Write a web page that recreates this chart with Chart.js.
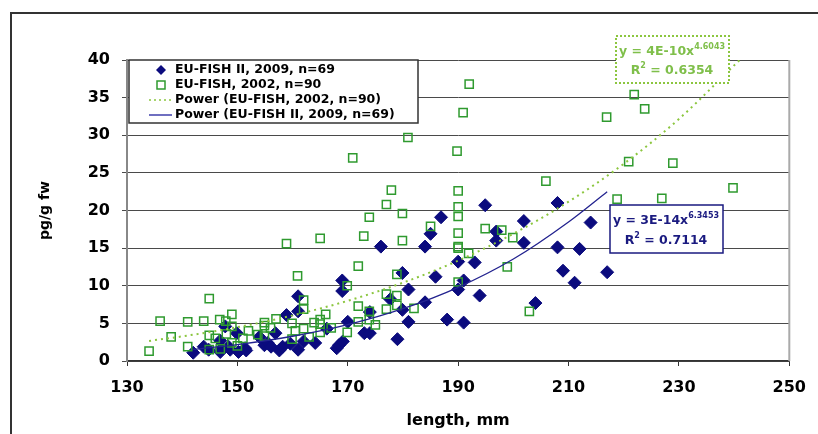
<!DOCTYPE html>
<html>
<head>
<meta charset="utf-8">
<script src="https://cdn.jsdelivr.net/npm/chart.js@4.4.1/dist/chart.umd.min.js"></script>
<style>
  html, body { margin: 0; padding: 0; background: #fff; }
  #wrap { width: 818px; height: 434px; position: relative; }
</style>
</head>
<body>
<div id="wrap"><canvas id="fishChart" width="818" height="434"></canvas></div>
<script>
// ::::: DATA :::::
// EU-FISH II, 2009, n=69  (length in mm, pg/g fw)
const fish2009Length = [142.0, 143.9, 144.8, 146.9, 146.9, 147.2, 148.4, 148.7, 147.8, 149.9,
  150.2, 151.4, 151.6, 154.0, 154.9, 155.5, 156.1, 156.9, 157.6, 158.2,
  158.9, 159.6, 161.0, 161.0, 161.0, 162.0, 164.1, 166.2, 168.0, 168.4,
  169.1, 169.0, 169.0, 170.0, 173.0, 174.0, 174.0, 176.0, 177.7, 179.0,
  179.9, 179.9, 181.0, 181.0, 184.0, 184.0, 185.0, 185.9, 186.9, 188.0,
  190.0, 190.0, 191.0, 191.0, 193.0, 193.9, 194.9, 196.9, 196.9, 201.9,
  201.9, 204.0, 208.0, 208.0, 209.0, 211.1, 212.0, 214.0, 217.0];
const fish2009Conc = [1.1, 1.9, 1.5, 2.7, 1.2, 1.7, 1.9, 1.5, 4.6, 3.7,
  1.2, 1.7, 1.4, 3.2, 2.1, 2.4, 1.9, 3.7, 1.4, 1.9,
  6.1, 2.3, 1.5, 8.6, 6.6, 2.6, 2.4, 4.3, 1.7, 2.1,
  2.6, 10.7, 9.3, 5.2, 3.7, 3.7, 6.5, 15.2, 8.2, 2.9,
  6.8, 11.7, 9.5, 5.2, 15.2, 7.8, 16.9, 11.2, 19.1, 5.5,
  13.2, 9.5, 10.7, 5.1, 13.1, 8.7, 20.7, 17.2, 16.0, 18.6,
  15.7, 7.7, 21.0, 15.1, 12.0, 10.4, 14.9, 18.4, 11.8];

// EU-FISH, 2002, n=90
const fish2002Length = [134.0, 136.0, 138.0, 141.0, 141.0, 143.9, 144.9, 144.9, 144.9, 146.0,
  146.8, 146.9, 147.9, 148.0, 149.0, 149.0, 149.0, 150.0, 151.0, 152.0,
  153.7, 154.9, 154.9, 154.9, 156.0, 157.0, 158.9, 159.9, 159.9, 160.5,
  160.9, 162.0, 162.0, 162.0, 163.0, 163.9, 165.0, 165.0, 165.0, 165.0,
  166.0, 167.0, 169.9, 169.9, 170.9, 171.9, 171.9, 171.9, 172.9, 173.9,
  173.9, 173.9, 175.0, 177.0, 177.0, 177.0, 177.9, 178.9, 178.9, 178.9,
  179.9, 179.9, 180.9, 182.0, 185.0, 189.8, 190.0, 190.0, 190.0, 190.0,
  190.0, 190.0, 190.0, 190.9, 192.0, 191.9, 194.9, 197.9, 198.9, 199.9,
  202.9, 205.9, 216.9, 218.8, 220.9, 221.9, 223.8, 226.9, 228.9, 239.8];
const fish2002Conc = [1.3, 5.3, 3.2, 5.2, 1.9, 5.3, 8.3, 3.4, 1.5, 3.0,
  5.5, 1.6, 5.3, 3.6, 6.2, 4.6, 2.4, 2.0, 3.0, 4.0,
  3.5, 5.1, 4.7, 3.3, 4.4, 5.6, 15.6, 5.0, 2.9, 4.0,
  11.3, 8.1, 6.9, 4.3, 3.2, 5.1, 16.3, 5.5, 4.9, 3.8,
  6.2, 4.4, 10.0, 3.8, 27.0, 12.6, 7.3, 5.2, 16.6, 19.1,
  5.5, 6.6, 4.8, 20.8, 8.9, 6.9, 22.7, 11.5, 8.7, 7.4,
  19.6, 16.0, 29.7, 7.0, 17.9, 27.9, 22.6, 20.5, 19.2, 17.0,
  15.2, 15.0, 10.5, 33.0, 36.8, 14.3, 17.6, 17.4, 12.5, 16.4,
  6.6, 23.9, 32.4, 21.5, 26.5, 35.4, 33.5, 21.6, 26.3, 23.0];

// Power trend lines
const trend2002Length = [134, 140, 150, 160, 170, 180, 190, 200, 210, 220, 230, 241];
const trend2002Conc = [2.67, 3.27, 4.49, 6.05, 8.0, 10.41, 13.34, 16.91, 21.17, 26.2, 32.16, 40.0];
const trend2009Length = [142, 150, 160, 170, 180, 190, 200, 210, 217];
const trend2009Conc = [1.54, 2.18, 3.29, 4.83, 6.95, 9.79, 13.55, 18.48, 22.5];

const xTicks = [130, 150, 170, 190, 210, 230, 250];
const yTicks = [0, 5, 10, 15, 20, 25, 30, 35, 40];

const legendLabels = ["EU-FISH II, 2009, n=69", "EU-FISH, 2002, n=90",
  "Power (EU-FISH, 2002, n=90)", "Power (EU-FISH II, 2009, n=69)"];

// ::::: COLOURS / FONTS :::::
const navy = "#0b0b7e";
const squareGreen = "#2f9a2f";
const trendGreen = "#8cc63f";
const trendBlue = "#23238f";
const boldFont = "bold 12.5px 'DejaVu Sans'";

function toPoints(xs, ys) {
    return xs.map((x, i) => ({ x: x, y: ys[i] }));
}

// draws a line of text made of normal + superscript pieces, centred at cx
function drawPieces(ctx, pieces, cx, cy, color) {
    ctx.save();
    ctx.fillStyle = color;
    ctx.textBaseline = "middle";
    ctx.textAlign = "left";
    let total = 0;
    pieces.forEach(p => {
        ctx.font = p.sup ? "bold 8px 'DejaVu Sans'" : boldFont;
        total += ctx.measureText(p.t).width;
    });
    let x = cx - total / 2;
    pieces.forEach(p => {
        ctx.font = p.sup ? "bold 8px 'DejaVu Sans'" : boldFont;
        ctx.fillText(p.t, x, p.sup ? cy - 5 : cy);
        x += ctx.measureText(p.t).width;
    });
    ctx.restore();
}

// ::::: FRAME, LEGEND AND EQUATION BOXES :::::
const decorPlugin = {
    id: "decor",
    beforeDraw(chart) {
        const ctx = chart.ctx;
        ctx.save();
        ctx.fillStyle = "#fff";
        ctx.fillRect(0, 0, chart.width, chart.height);
        // outer frame (only left and top are in view)
        ctx.strokeStyle = "#333";
        ctx.lineWidth = 2;
        ctx.beginPath();
        ctx.moveTo(11, chart.height + 2);
        ctx.lineTo(11, 13);
        ctx.lineTo(chart.width + 2, 13);
        ctx.stroke();
        ctx.restore();
    },
    beforeDatasetsDraw(chart) {
        const ctx = chart.ctx;
        const area = chart.chartArea;
        ctx.save();
        ctx.strokeStyle = "#aaa";
        ctx.lineWidth = 2;
        ctx.beginPath();
        ctx.moveTo(area.right, area.top);
        ctx.lineTo(area.right, area.bottom);
        ctx.stroke();
        ctx.restore();
    },
    afterDatasetsDraw(chart) {
        const ctx = chart.ctx;
        ctx.save();

        // legend box
        ctx.fillStyle = "#fff";
        ctx.fillRect(129, 60, 289, 63);
        ctx.strokeStyle = "#333";
        ctx.lineWidth = 1.5;
        ctx.strokeRect(129, 60, 289, 63);

        const rows = [70, 85, 100, 115];
        const ds = chart.data.datasets;
        // diamond
        ctx.fillStyle = ds[0].backgroundColor;
        ctx.beginPath();
        ctx.moveTo(161, rows[0] - 5);
        ctx.lineTo(166, rows[0]);
        ctx.lineTo(161, rows[0] + 5);
        ctx.lineTo(156, rows[0]);
        ctx.closePath();
        ctx.fill();
        // square
        ctx.strokeStyle = ds[1].borderColor;
        ctx.lineWidth = 1.5;
        ctx.strokeRect(157, rows[1] - 4, 8, 8);
        // dotted line
        ctx.strokeStyle = ds[2].borderColor;
        ctx.setLineDash([2, 3]);
        ctx.beginPath();
        ctx.moveTo(149, rows[2]);
        ctx.lineTo(172, rows[2]);
        ctx.stroke();
        ctx.setLineDash([]);
        // solid line
        ctx.strokeStyle = "#6f6fc0";
        ctx.lineWidth = 2;
        ctx.beginPath();
        ctx.moveTo(149, rows[3]);
        ctx.lineTo(172, rows[3]);
        ctx.stroke();

        ctx.fillStyle = "#000";
        ctx.font = boldFont;
        ctx.textBaseline = "middle";
        legendLabels.forEach((txt, i) => ctx.fillText(txt, 175, rows[i]));

        // 2002 equation box (dotted)
        ctx.fillStyle = "#fff";
        ctx.fillRect(616, 36, 113, 47);
        ctx.strokeStyle = trendGreen;
        ctx.lineWidth = 2;
        ctx.setLineDash([2, 2]);
        ctx.strokeRect(616, 36, 113, 47);
        ctx.setLineDash([]);
        drawPieces(ctx, [{ t: "y = 4E-10x" }, { t: "4.6043", sup: true }], 672, 52, "#7fbf4a");
        drawPieces(ctx, [{ t: "R" }, { t: "2", sup: true }, { t: " = 0.6354" }], 672, 71, "#7fbf4a");

        // 2009 equation box (solid)
        ctx.fillStyle = "#fff";
        ctx.fillRect(610, 205, 113, 48);
        ctx.strokeStyle = "#1a1a80";
        ctx.lineWidth = 1.5;
        ctx.strokeRect(610, 205, 113, 48);
        drawPieces(ctx, [{ t: "y = 3E-14x" }, { t: "6.3453", sup: true }], 666, 221, "#1a1a80");
        drawPieces(ctx, [{ t: "R" }, { t: "2", sup: true }, { t: " = 0.7114" }], 666, 241, "#1a1a80");

        ctx.restore();
    }
};

// ::::: THE CHART :::::
const ctx = document.getElementById("fishChart");
const fishChart = new Chart(ctx, {
    type: "scatter",
    data: {
        datasets: [{
            label: legendLabels[0],
            data: toPoints(fish2009Length, fish2009Conc),
            pointStyle: "rectRot",
            pointRadius: 6.5,
            backgroundColor: navy,
            borderColor: navy,
            borderWidth: 1,
            order: 3
        }, {
            label: legendLabels[1],
            data: toPoints(fish2002Length, fish2002Conc),
            pointStyle: "rect",
            pointRadius: 5.8,
            backgroundColor: "rgba(0,0,0,0)",
            borderColor: squareGreen,
            borderWidth: 1.5,
            order: 2
        }, {
            label: legendLabels[2],
            data: toPoints(trend2002Length, trend2002Conc),
            showLine: true,
            pointRadius: 0,
            borderColor: trendGreen,
            borderWidth: 2,
            borderDash: [2, 4],
            cubicInterpolationMode: "monotone",
            order: 1
        }, {
            label: legendLabels[3],
            data: toPoints(trend2009Length, trend2009Conc),
            showLine: true,
            pointRadius: 0,
            borderColor: trendBlue,
            borderWidth: 1.3,
            cubicInterpolationMode: "monotone",
            order: 0
        }]
    },
    options: {
        responsive: false,
        animation: false,
        devicePixelRatio: 1,
        layout: {
            padding: { left: 0, right: 17, top: 60, bottom: 0 }
        },
        scales: {
            x: {
                type: "linear",
                min: 130,
                max: 250,
                afterBuildTicks: (scale) => { scale.ticks = xTicks.map(v => ({ value: v })); },
                afterFit: (scale) => { scale.height = 73; },
                ticks: {
                    color: "#000",
                    padding: 12,
                    font: { family: "DejaVu Sans", size: 16, weight: "bold" }
                },
                grid: {
                    drawOnChartArea: false,
                    drawTicks: true,
                    tickLength: 5,
                    color: "#333"
                },
                border: { color: "#333", width: 1.5 },
                title: {
                    display: true,
                    text: "length, mm",
                    color: "#000",
                    padding: { top: 0, bottom: 4 },
                    font: { family: "DejaVu Sans", size: 16, weight: "bold" }
                }
            },
            y: {
                min: 0,
                max: 40,
                afterBuildTicks: (scale) => { scale.ticks = yTicks.map(v => ({ value: v })); },
                afterFit: (scale) => { scale.width = 127; },
                ticks: {
                    color: "#000",
                    padding: 12,
                    font: { family: "DejaVu Sans", size: 16, weight: "bold" }
                },
                grid: {
                    color: "#4a4a4a",
                    lineWidth: 1,
                    tickLength: 5
                },
                border: { color: "#888", width: 2 },
                title: {
                    display: true,
                    text: "pg/g fw",
                    color: "#000",
                    padding: { top: 37, bottom: 0 },
                    font: { family: "DejaVu Sans", size: 14, weight: "bold" }
                }
            }
        },
        plugins: {
            legend: { display: false },
            tooltip: { enabled: false }
        }
    },
    plugins: [decorPlugin]
});
</script>
</body>
</html>
